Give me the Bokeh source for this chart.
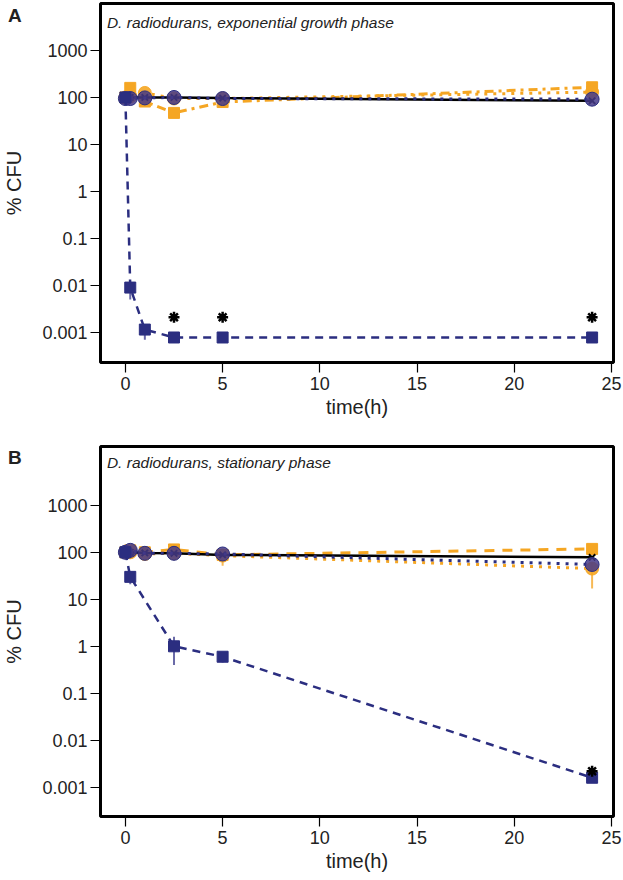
import numpy as np
from bokeh.plotting import figure
from bokeh.layouts import column
from bokeh.models import (FixedTicker, CustomJSTickFormatter, Label, Range1d,
                          ColumnDataSource, Whisker, Div)
from bokeh.embed import file_html
from bokeh.resources import INLINE

# ---------------- data ----------------
t_all = [0, 0.25, 1, 2.5, 5, 24]

# Panel A : exponential growth phase
a_black = [100, 100, 100, 100, 97, 85]
a_navy_circ = [95, 95, 98, 100, 95, 92]
a_orange_circ = [100, 105, 125, 95, 95, 130]
a_orange_sq = [100, 160, 82, 47, 80, 165]
a_navy_sq = [100, 0.009, 0.00115, 0.00078, 0.00078, 0.00078]
a_navy_sq_lo = [100, 0.005, 0.0007, 0.00078, 0.00078, 0.00078]
a_navy_sq_hi = [100, 0.012, 0.0014, 0.00078, 0.00078, 0.00078]
a_star_t = [2.5, 5, 24]
a_star_y = [0.0021, 0.0021, 0.0021]

# Panel B : stationary phase
b_black = [100, 100, 97, 95, 88, 78]
b_navy_circ = [100, 110, 95, 95, 92, 55]
b_orange_circ = [100, 100, 92, 95, 85, 45]
b_orange_circ_lo = [100, 100, 92, 95, 52, 17]
b_orange_circ_hi = [100, 100, 92, 95, 100, 60]
b_orange_sq = [100, 110, 100, 115, 88, 118]
b_sq_t = [0, 0.25, 2.5, 5, 24]
b_navy_sq = [100, 30, 1.0, 0.6, 0.0016]
b_navy_sq_lo = [100, 21, 0.4, 0.45, 0.0015]
b_navy_sq_hi = [100, 38, 1.6, 0.72, 0.0017]
b_star_t = [24]
b_star_y = [0.0022]

x_ticks = [0, 5, 10, 15, 20, 25]
y_ticks = [0.001, 0.01, 0.1, 1, 10, 100, 1000]
panel_letters = ["A", "B"]

NAVY = "#2b2e80"
NAVY_C = "#453a88"
ORANGE = "#f5a623"
FONT = "Liberation Sans"


def panel(height, top, frame_h, ytop, ybot, title):
    p = figure(width=623, height=height, y_axis_type="log",
               x_range=Range1d(-1.28, 25.1), y_range=Range1d(ybot, ytop),
               output_backend="svg", toolbar_location=None,
               min_border_left=97, min_border_right=10,
               min_border_top=top, min_border_bottom=height - top - frame_h)
    p.xgrid.visible = False
    p.ygrid.visible = False
    p.outline_line_color = "black"
    p.outline_line_width = 3
    p.background_fill_color = "white"
    p.border_fill_color = "white"
    for ax in (p.xaxis[0], p.yaxis[0]):
        ax.axis_line_color = None
        ax.major_tick_out = 10
        ax.major_tick_in = 0
        ax.minor_tick_out = 0
        ax.minor_tick_in = 0
        ax.major_tick_line_width = 1.2
        ax.major_label_text_font = FONT
        ax.major_label_text_font_size = "18px"
        ax.major_label_text_color = "#222222"
        ax.axis_label_text_font = FONT
        ax.axis_label_text_font_size = "20px"
        ax.axis_label_text_font_style = "normal"
        ax.axis_label_text_color = "#222222"
    p.xaxis.major_label_standoff = 4
    p.yaxis.major_label_standoff = 3
    p.xaxis.ticker = FixedTicker(ticks=x_ticks)
    p.yaxis.ticker = FixedTicker(ticks=y_ticks, minor_ticks=[])
    p.yaxis.formatter = CustomJSTickFormatter(code="""
        if (tick >= 1) { return Math.round(tick).toString(); }
        return tick.toPrecision(1);
    """)
    p.xaxis.axis_label = "time(h)"
    p.yaxis.axis_label = "% CFU"
    p.xaxis.axis_label_standoff = 3
    p.yaxis.axis_label_standoff = 14
    p.add_layout(Label(x=-0.95, y=title[1], text=title[0], text_font=FONT,
                       text_font_size="15.5px", text_font_style="italic",
                       text_baseline="middle", text_color="#222222"))
    return p


def letter_div(letter, top):
    return Div(text=letter, width=40, height=0, margin=0,
               styles={"font-family": "Liberation Sans", "font-weight": "bold",
                       "font-size": "19px", "color": "#222222",
                       "overflow": "visible", "position": "relative",
                       "z-index": "10", "left": "8px", "top": f"{top}px",
                       "line-height": "19px"})


# ---------------- Panel A ----------------
pa = panel(440, 3, 359, 10 ** 4.0, 10 ** -3.64,
           ("D. radiodurans, exponential growth phase", 10 ** 3.6))

pa.line(t_all, a_orange_sq, color=ORANGE, line_width=3, line_dash="9 5 3 5")
pa.scatter(t_all, a_orange_sq, marker="square", size=11, color=ORANGE)
pa.line(t_all, a_orange_circ, color=ORANGE, line_width=3, line_dash="3 6")
pa.scatter(t_all, a_orange_circ, marker="circle", size=13, color=ORANGE, alpha=0.9)
pa.line(t_all, a_black, color="black", line_width=2.5)
pa.scatter(t_all, a_black, marker="x", size=9, color="black", line_width=2)
pa.line(t_all, a_navy_circ, color=NAVY, line_width=3, line_dash="3 6")
pa.scatter(t_all, a_navy_circ, marker="circle", size=14, fill_color=NAVY_C,
           line_color=NAVY, fill_alpha=0.85)
src_a = ColumnDataSource(dict(t=t_all, lo=a_navy_sq_lo, hi=a_navy_sq_hi))
pa.add_layout(Whisker(source=src_a, base="t", lower="lo", upper="hi",
                      line_color="#6a6aa8", line_width=2,
                      upper_head=None, lower_head=None))
pa.line(t_all, a_navy_sq, color=NAVY, line_width=2.5, line_dash="8 6")
pa.scatter(t_all, a_navy_sq, marker="square", size=11, color=NAVY)
pa.scatter(a_star_t, a_star_y, marker="asterisk", size=11, color="black",
           line_width=2.5)

# ---------------- Panel B ----------------
pb = panel(440, 6, 370, 10 ** 4.25, 10 ** -3.62,
           ("D. radiodurans, stationary phase", 10 ** 3.91))

src_bo = ColumnDataSource(dict(t=t_all, lo=b_orange_circ_lo, hi=b_orange_circ_hi))
pb.add_layout(Whisker(source=src_bo, base="t", lower="lo", upper="hi",
                      line_color="#f7b955", line_width=2,
                      upper_head=None, lower_head=None))
pb.line(t_all, b_orange_sq, color=ORANGE, line_width=3, line_dash="10 8")
pb.scatter(t_all, b_orange_sq, marker="square", size=11, color=ORANGE)
pb.line(t_all, b_orange_circ, color=ORANGE, line_width=3, line_dash="3 6")
pb.scatter(t_all, b_orange_circ, marker="circle", size=13, color=ORANGE, alpha=0.9)
pb.line(t_all, b_black, color="black", line_width=2.5)
pb.scatter(t_all, b_black, marker="x", size=9, color="black", line_width=2)
pb.line(t_all, b_navy_circ, color=NAVY, line_width=3, line_dash="3 6")
pb.scatter(t_all, b_navy_circ, marker="circle", size=14, fill_color=NAVY_C,
           line_color=NAVY, fill_alpha=0.85)
src_b = ColumnDataSource(dict(t=b_sq_t, lo=b_navy_sq_lo, hi=b_navy_sq_hi))
pb.add_layout(Whisker(source=src_b, base="t", lower="lo", upper="hi",
                      line_color="#6a6aa8", line_width=2,
                      upper_head=None, lower_head=None))
pb.line(b_sq_t, b_navy_sq, color=NAVY, line_width=2.5, line_dash="8 6")
pb.scatter(b_sq_t, b_navy_sq, marker="square", size=11, color=NAVY)
pb.scatter(b_star_t, b_star_y, marker="asterisk", size=11, color="black",
           line_width=2.5)

layout = column(letter_div(panel_letters[0], 6), pa,
                letter_div(panel_letters[1], 8), pb, spacing=0)
open("out.html", "w").write(file_html(layout, INLINE))
